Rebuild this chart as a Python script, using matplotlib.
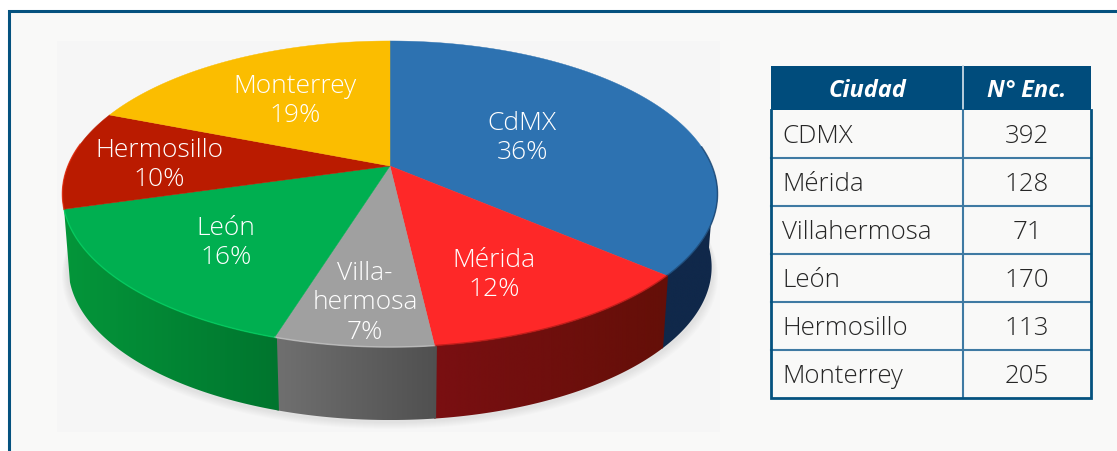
import numpy as np
import matplotlib
matplotlib.use('Agg')
import matplotlib.pyplot as plt
from matplotlib.colors import LinearSegmentedColormap
from matplotlib.patches import Polygon, Rectangle

# Data
ciudades = ['CDMX', 'Mérida', 'Villahermosa', 'León', 'Hermosillo', 'Monterrey']
encuestas = [392, 128, 71, 170, 113, 205]
etiquetas = ['CdMX', 'Mérida', 'Villa-\nhermosa', 'León', 'Hermosillo', 'Monterrey']
encabezados = ['Ciudad', 'N° Enc.']

# Styles (only the first four slices show a side wall)
top_colors = ['#2d72b1', '#fe2828', '#a0a0a0', '#00af50', '#ba1b00', '#fbbd00']
side_left = ['#10284a', '#7a0f12', '#707070', '#04963a']
side_right = ['#10284a', '#640f08', '#505050', '#00752e']
rim_colors = ['#163f6a', '#a81410', '#c4c4c4', '#00d060', '#e02000', '#fbbd00']
label_xy = [(522, 137), (494, 274), (365, 302), (226, 242), (159, 164), (295, 100)]
NAVY = '#004c7c'
LINE = '#3f7aa3'
TEXT = '#262626'
plt.rcParams['font.family'] = ['Open Sans', 'DejaVu Sans']

CX, CY = 390, 166
SX, B, K = 322, 147.9, -0.183
DEPTH = 73


def rim(angle, drop=0, scale=1.0):
    # pie is tilted with perspective, angle runs clockwise from the top
    u, v = np.sin(angle), -np.cos(angle)
    w = 1 + K * v
    return np.column_stack((CX + scale * SX * u / w, CY + B * v / w + drop))


fig = plt.figure(figsize=(11.17, 4.52), dpi=100, facecolor='white')
ax = fig.add_axes([0, 0, 1, 1])

# Panel
ax.add_patch(Rectangle((8, 11), 1109, 442, fc='#f9f9f8', ec='none', zorder=0))
ax.add_patch(Rectangle((57, 41), 663, 391, fc='#f6f6f6', ec='none', zorder=0))
ax.plot([8.5, 8.5, 1117], [453, 11, 11], color='#05527f', lw=2.2, solid_joinstyle='miter',
        solid_capstyle='butt', zorder=1)

# Soft shadow below the pie
full = np.linspace(0, 2 * np.pi, 300)
for grow in range(14, 0, -2):
    pts = rim(full, DEPTH + 2 + grow * 0.5, 0.985 + grow * 0.0012)
    ax.add_patch(Polygon(pts, fc='#000000', ec='none', alpha=0.012, zorder=1))

total = sum(encuestas)
edges = 2 * np.pi * np.concatenate(([0], np.cumsum(encuestas))) / total

# Sides, horizontal gradient clipped to the wall of each slice
for i in range(len(side_left)):
    seg = np.linspace(edges[i] - 0.006, edges[i + 1], 200)
    seg = seg[np.cos(seg) < -0.05]  # back part is hidden behind the top
    pts = np.vstack((rim(seg), rim(seg, DEPTH, 0.982)[::-1]))
    wall = Polygon(pts, fc='none', ec='none', transform=ax.transData)
    ax.add_patch(wall)
    cmap = LinearSegmentedColormap.from_list('side', [side_left[i], side_right[i]])
    im = ax.imshow(np.linspace(0, 1, 256).reshape(1, -1), cmap=cmap, aspect='auto', zorder=2,
                   extent=(pts[:, 0].min(), pts[:, 0].max(), pts[:, 1].max(), pts[:, 1].min()))
    im.set_clip_path(wall)

# Top surface
for i in range(len(encuestas)):
    arc = np.linspace(edges[i], edges[i + 1], 120)
    pts = np.vstack(([[CX, CY]], rim(arc)))
    ax.add_patch(Polygon(pts, fc=top_colors[i], ec=top_colors[i], lw=0.3, zorder=3))
    front = arc[np.cos(arc) < 0.15]
    if len(front) > 1:
        p = rim(front)
        ax.plot(p[:, 0], p[:, 1], color=rim_colors[i], lw=1.1, alpha=0.7, zorder=4)

    pct = round(100 * encuestas[i] / total)
    ax.text(label_xy[i][0], label_xy[i][1], etiquetas[i] + '\n' + str(pct) + '%', color='white',
            fontsize=19, ha='center', va='center', linespacing=1.25, zorder=5,
            fontweight='light')

# Table
col_x = [771, 963, 1091]
row_h = 48
head_top, head_bottom = 66, 110
ax.add_patch(Rectangle((col_x[0], head_top), col_x[2] - col_x[0], head_bottom - head_top,
                       fc=NAVY, ec='none', zorder=2))
ax.plot([col_x[1], col_x[1]], [head_top, head_bottom], color='#c8d8e4', lw=1.3, zorder=3)
for j, h in enumerate(encabezados):
    ax.text((col_x[j] + col_x[j + 1]) / 2, 90, h, color='white', fontsize=17, ha='center',
            va='center', fontstyle='italic', fontweight='bold', zorder=4)

for i, (c, n) in enumerate(zip(ciudades, encuestas)):
    y = head_bottom + i * row_h
    if i > 0:
        ax.plot(col_x[0:1] + col_x[2:], [y, y], color=LINE, lw=1.5, zorder=3)
    ax.text(782, y + row_h / 2 + 2, c, color=TEXT, fontsize=18.6, ha='left', va='center',
            fontweight='light', zorder=4)
    ax.text((col_x[1] + col_x[2]) / 2, y + row_h / 2 + 2, str(n), color=TEXT, fontsize=18.6,
            ha='center', va='center', fontweight='light', zorder=4)

table_bottom = head_bottom + len(ciudades) * row_h
ax.plot([col_x[1], col_x[1]], [head_bottom, table_bottom], color=LINE, lw=1.5, zorder=3)
ax.plot([col_x[0], col_x[0], col_x[2], col_x[2]], [head_bottom, table_bottom, table_bottom, head_bottom],
        color='#05527f', lw=2, solid_joinstyle='miter', zorder=3)

ax.set_xlim(0, 1117)
ax.set_ylim(451, -1)
ax.axis('off')

plt.savefig('out.png', dpi=100, facecolor=fig.get_facecolor())
plt.close()
